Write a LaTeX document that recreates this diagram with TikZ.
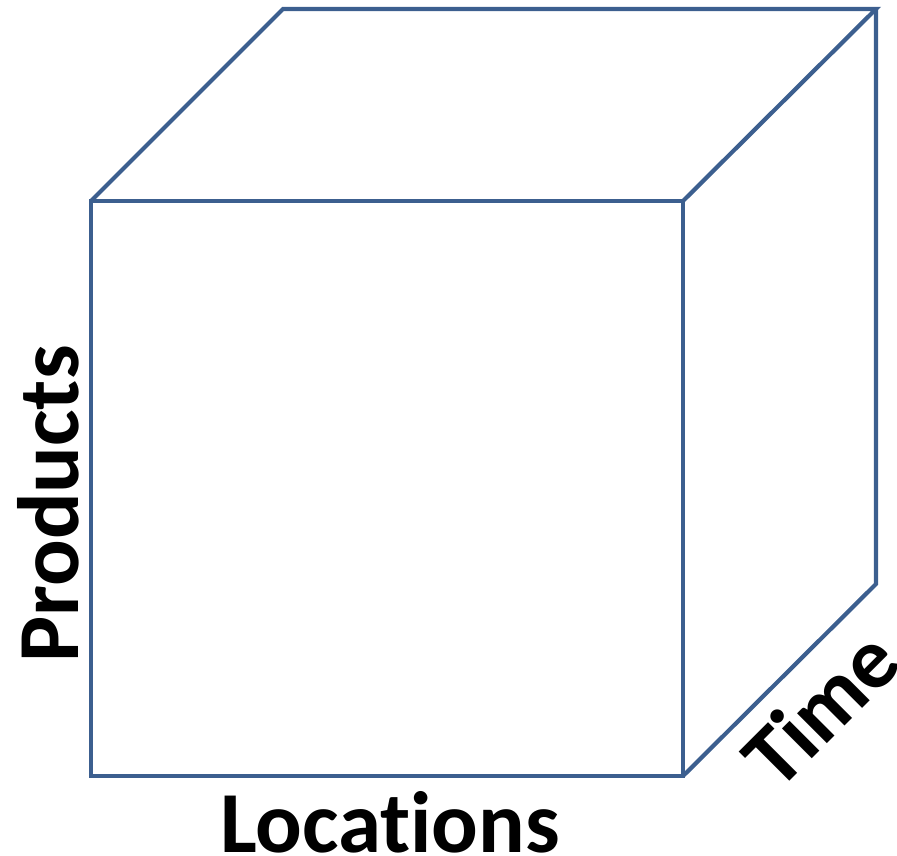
\documentclass[tikz,border=0pt]{standalone}
\usepackage{fontspec}
\setmainfont[Ligatures=NoCommon]{Carlito}
\definecolor{cubeblue}{HTML}{3C5F8F}
\begin{document}
\begin{tikzpicture}[x=1pt,y=-1pt,
  edge/.style={draw=cubeblue,line width=4.2pt,line join=miter},
  lbl/.style={font=\fontsize{87}{95}\selectfont\bfseries,inner sep=0pt}]
\useasboundingbox (0,0) rectangle (897,856);
\coordinate (fbl) at (91,776);
\coordinate (fbr) at (683,776);
\coordinate (ftr) at (683,201);
\coordinate (ftl) at (91,201);
\coordinate (btl) at (283,9);
\coordinate (btr) at (876,9);
\coordinate (bbr) at (876,584);
\draw[edge] (fbl) -- (fbr) -- (ftr) -- (ftl) -- cycle;
\draw[edge] (ftl) -- (btl) -- (btr) -- (ftr);
\draw[edge] (btr) -- (bbr) -- (fbr);
\node[lbl,rotate=90] (products) at (48,504) {Products};
\node[lbl] (locations) at (390,822) {Locations};
\node[lbl,rotate=45] (time) at (820,708) {Time};
\end{tikzpicture}
\end{document}
